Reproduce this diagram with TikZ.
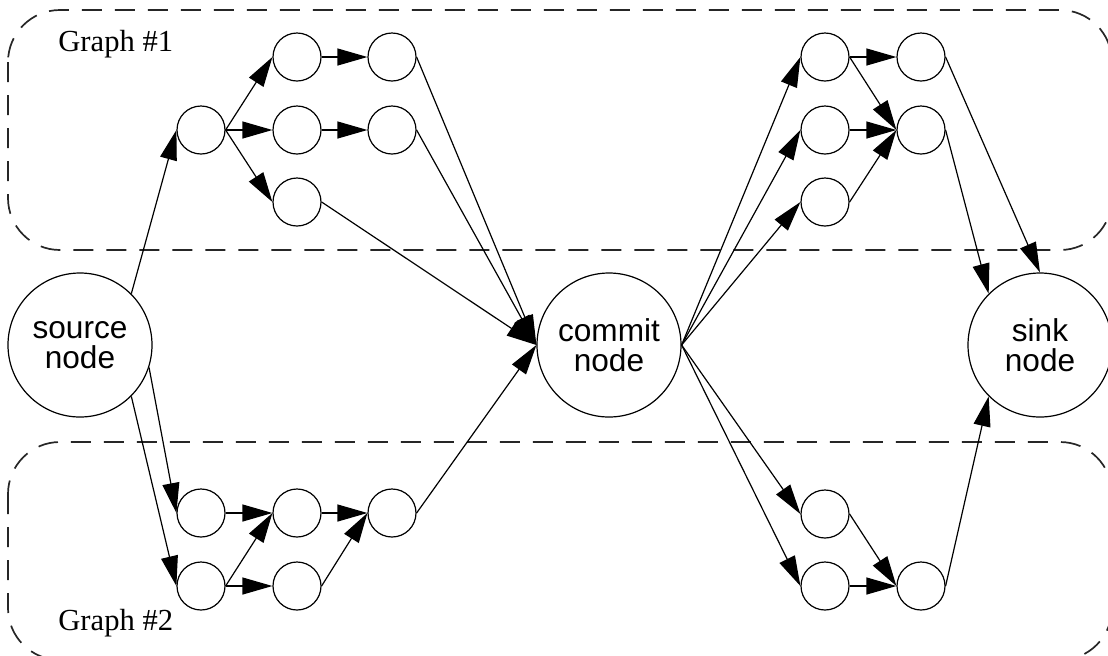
\documentclass[tikz,border=0pt]{standalone}
\usepackage{fontspec}
\setmainfont{Liberation Serif}
\newfontfamily\circlefont{Liberation Sans}
\usetikzlibrary{arrows.meta, positioning}

\begin{document}
\begin{tikzpicture}[x=0.5pt, y=-0.5pt,
    small/.style={circle, draw, line width=0.6pt, minimum size=24pt, inner sep=0pt},
    big/.style={circle, draw, line width=0.6pt, minimum size=72pt, inner sep=0pt, align=center,
        font=\circlefont\fontsize{15.8}{15.2}\selectfont},
    edge/.style={line width=0.6pt, -{Triangle[length=15pt, width=8.5pt]}},
    group/.style={draw=black!85, line width=0.85pt, dash pattern=on 10pt off 6.5pt, rounded corners=26pt},
    title/.style={anchor=base west, inner sep=0pt, font=\fontsize{15.3}{18}\selectfont}]
\useasboundingbox (0,0) rectangle (1108,655);

% Graph regions
\draw[group] (8,10) rectangle (1112,250);
\draw[group] (8,442) rectangle (1112,660);
\node[title] (title1) at (58,51) {Graph \#1};
\node[title] (title2) at (58,630) {Graph \#2};

% Big nodes
\node[big] (src) at (80,345) {source\\node};
\node[big] (commit) at (609,345) {commit\\node};
\node[big] (sink) at (1040,345) {sink\\node};

% Small nodes
\foreach \name/\x/\y in {a/201/130, b1/297/57, b2/297/130, b3/297/202, c1/392/57, c2/392/130,
    d1/201/513, d2/201/586, e1/297/513, e2/297/586, f/392/513,
    g1/825/57, g2/825/130, g3/825/202, h1/921/57, h2/921/130,
    i1/825/514, i2/825/586, j/921/586} {
    \node[small] (\name) at (\x,\y) {};
}

% Graph #1 edges
\foreach \from/\to in {src.45/a.west, a.east/b1.west, a.east/b2.west, a.east/b3.west,
    b1.east/c1.west, b2.east/c2.west, c1.east/commit.west, c2.east/commit.west, b3.east/commit.west,
    commit.east/g1.west, commit.east/g2.west, commit.east/g3.west,
    g1.east/h1.west, g1.east/h2.west, g2.east/h2.west, g3.east/h2.west,
    h1.east/sink.north, h2.east/sink.135} {
    \draw[edge] (\from) -- (\to);
}

% Graph #2 edges
\foreach \from/\to in {src.-18/d1.west, src.-45/d2.west, d1.east/e1.west, d2.east/e1.west,
    d2.east/e2.west, e1.east/f.west, e2.east/f.west, f.east/commit.west,
    commit.east/i1.west, commit.east/i2.west, i1.east/j.west, i2.east/j.west, j.east/sink.-135} {
    \draw[edge] (\from) -- (\to);
}
\end{tikzpicture}
\end{document}
